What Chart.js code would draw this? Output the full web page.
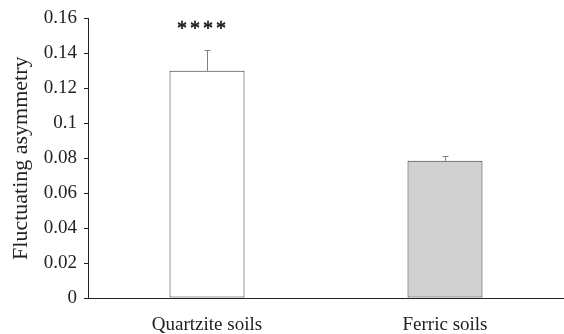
<!DOCTYPE html>
<html>
<head>
<meta charset="utf-8">
<script src="https://cdn.jsdelivr.net/npm/chart.js@4.4.0/dist/chart.umd.min.js"></script>
<style>
    html, body { margin: 0; padding: 0; background: #fff; }
    #wrap { width: 564px; height: 334px; }
</style>
</head>
<body>
<div id="wrap"><canvas id="chart"></canvas></div>
<script>
//Data
const categories = ['Quartzite soils', 'Ferric soils'];
const means = [0.130, 0.0785];
const errorsUp = [0.012, 0.0025];
const stars = ['****', ''];
const barColors = ['#ffffff', '#d0d0d0'];

const serif = '"Liberation Serif", "Times New Roman", serif';

//Draws the upper error whiskers and significance stars
const errorBarPlugin = {
    id: 'errorBars',
    afterDatasetsDraw(chart) {
        const ctx = chart.ctx;
        const meta = chart.getDatasetMeta(0);
        const y = chart.scales.y;
        ctx.save();
        meta.data.forEach((bar, i) => {
            const top = y.getPixelForValue(means[i] + errorsUp[i]);
            const x = Math.round(bar.x) + 0.5;
            ctx.strokeStyle = '#808080';
            ctx.lineWidth = 1;
            ctx.beginPath();
            ctx.moveTo(x, bar.y);
            ctx.lineTo(x, Math.round(top) + 0.5);
            ctx.moveTo(x - 3, Math.round(top) + 0.5);
            ctx.lineTo(x + 3, Math.round(top) + 0.5);
            ctx.stroke();
            if (stars[i]) {
                ctx.fillStyle = '#222';
                ctx.strokeStyle = '#222';
                ctx.lineWidth = 0.6;
                ctx.font = '20px ' + serif;
                ctx.letterSpacing = '3px';
                ctx.textAlign = 'center';
                ctx.textBaseline = 'middle';
                const sy = y.getPixelForValue(0.1535);
                ctx.fillText(stars[i], bar.x - 4, sy);
                ctx.strokeText(stars[i], bar.x - 4, sy);
            }
        });
        ctx.restore();
    }
};

let chart = new Chart(document.getElementById('chart'), {
    type: 'bar',
    data: {
        labels: categories,
        datasets: [{
            data: means,
            backgroundColor: barColors,
            borderColor: '#333333',
            borderWidth: 1,
            borderSkipped: false,
            barPercentage: 0.315,
            categoryPercentage: 1
        }]
    },
    options: {
        responsive: true,
        maintainAspectRatio: false,
        animation: false,
        devicePixelRatio: 1,
        layout: { padding: { top: 17, right: 0, bottom: 0, left: 0 } },
        plugins: {
            legend: { display: false },
            tooltip: { enabled: false }
        },
        scales: {
            x: {
                grid: { display: false },
                border: { display: true, color: '#222', width: 1 },
                ticks: {
                    color: '#222',
                    padding: 8,
                    font: { family: serif, size: 19 }
                },
                afterFit: (s) => { s.height = 36; }
            },
            y: {
                min: 0,
                max: 0.16,
                grid: {
                    drawOnChartArea: false,
                    drawTicks: true,
                    tickLength: 4,
                    tickColor: '#222'
                },
                border: { display: true, color: '#222', width: 1 },
                ticks: {
                    stepSize: 0.02,
                    color: '#222',
                    padding: 7,
                    font: { family: serif, size: 19 },
                    callback: (v) => String(+v.toFixed(2))
                },
                title: {
                    display: true,
                    text: 'Fluctuating asymmetry',
                    color: '#222',
                    font: { family: serif, size: 22 },
                    padding: { top: 8, bottom: 0 }
                },
                afterFit: (s) => { s.width = 88; }
            }
        }
    },
    plugins: [errorBarPlugin]
});
</script>
</body>
</html>
